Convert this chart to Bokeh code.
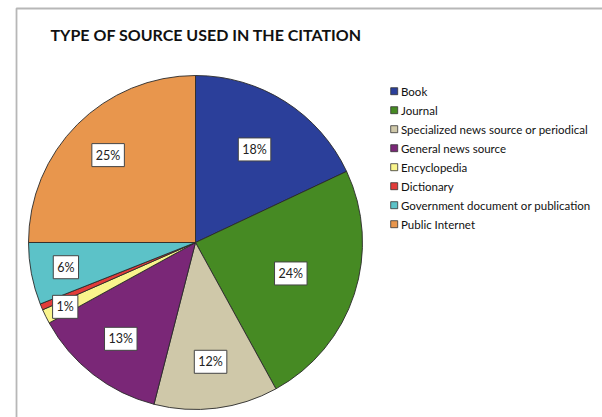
import numpy as np
from bokeh.plotting import figure
from bokeh.models import ColumnDataSource, Range1d, BoxAnnotation
from bokeh.core.properties import value
from bokeh.embed import file_html
from bokeh.resources import INLINE

# ---- data ----
title = "TYPE OF SOURCE USED IN THE CITATION"
categories = ["Book", "Journal", "Specialized news source or periodical",
              "General news source", "Encyclopedia", "Dictionary",
              "Government document or publication", "Public Internet"]
percents = [18, 24, 12, 13, 1.4, 0.6, 6, 25]
colors = ["#2B3F9A", "#468A23", "#CFC8A9", "#7A2777",
          "#F9F48C", "#E23C3A", "#5CC2C8", "#E8964D"]

# ---- style / layout ----
W, H = 602, 417
FONT = "Lato"
CX, CY, R = 195, 175, 167          # pie centre and radius (plot units = px)
label_r = [0.66, 0.60, 0.72, 0.73, 0.87, 0.0, 0.79, 0.74]

# plot units: x = window px, y = 417 - window px
p = figure(width=W, height=H, output_backend="svg", toolbar_location=None,
           x_range=Range1d(0, W), y_range=Range1d(0, H),
           min_border=0, outline_line_color=None)
p.axis.visible = False
p.grid.visible = False
p.background_fill_color = "white"
p.border_fill_color = "white"

# frame (top and left edges visible)
p.add_layout(BoxAnnotation(left=16, top=409, right=700, bottom=-100,
                           fill_alpha=0, line_color="#111111", line_width=1.8))

vals = np.array(percents, dtype=float)
frac = vals / vals.sum()
cum_end = np.cumsum(frac)
cum_start = cum_end - frac
start = np.pi / 2 - 2 * np.pi * cum_start
end = np.pi / 2 - 2 * np.pi * cum_end
mid = np.pi / 2 - 2 * np.pi * (cum_start + frac / 2)

src = ColumnDataSource(dict(cat=categories, color=colors,
                            start=start, end=end))
p.wedge(x=CX, y=CY, radius=R, start_angle="start", end_angle="end",
        direction="clock", fill_color="color", line_color="#2a2a2a",
        line_width=0.9, source=src)

# slice labels
lab_x, lab_y, lab_t = [], [], []
for v, m, fr in zip(percents, mid, label_r):
    if v < 1:
        continue
    lab_x.append(CX + fr * R * np.cos(m))
    lab_y.append(CY + fr * R * np.sin(m))
    lab_t.append(f"{round(v)}%")
p.text(x=lab_x, y=lab_y, text=lab_t, text_font=value(FONT),
       text_font_size="12.5px", text_color="#222222",
       text_align="center", text_baseline="middle",
       background_fill_color="white", border_line_color="#444444",
       border_line_width=1, padding=4)

# title
p.text(x=[50], y=[417 - 34], text=[title], text_font=value(FONT),
       text_font_style="bold", text_font_size="16px", text_color="#111111",
       text_align="left", text_baseline="middle")

# legend (manual)
n = len(categories)
ly = [417 - 90.7 - 19 * i for i in range(n)]
p.rect(x=[393.7] * n, y=ly, width=7, height=7, fill_color=colors,
       line_color="#333333", line_width=0.8)
p.text(x=[400.5] * n, y=ly, text=categories, text_font=value(FONT),
       text_font_size="11.5px", text_color="#111111",
       text_align="left", text_baseline="middle")

open("out.html", "w").write(file_html(p, INLINE))
